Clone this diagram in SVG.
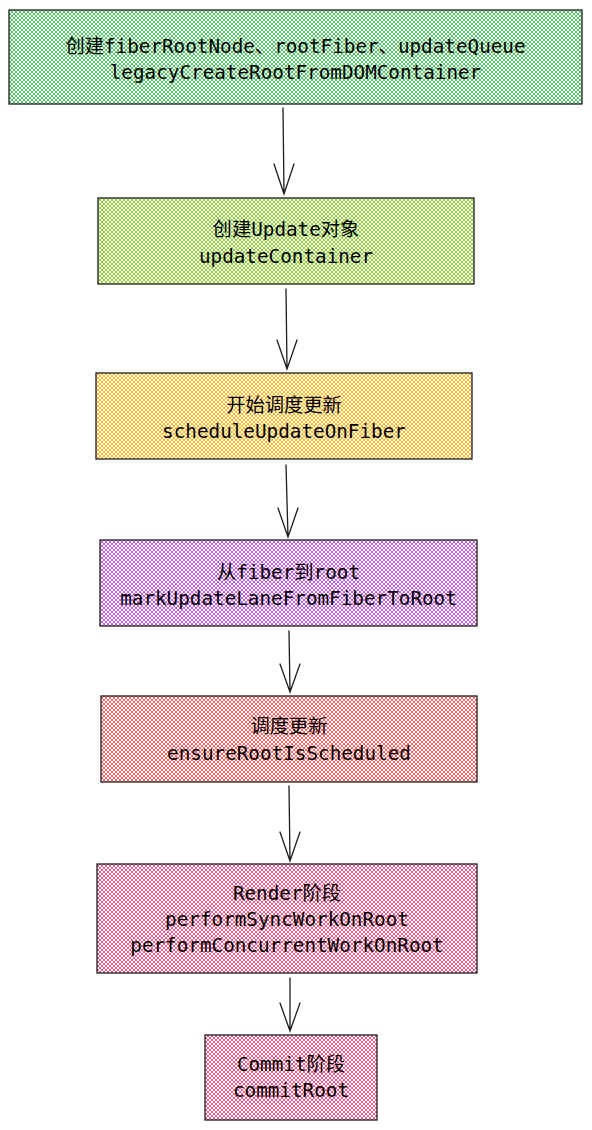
<svg xmlns="http://www.w3.org/2000/svg" width="592" height="1130" viewBox="0 0 592 1130">
<defs>
<pattern id="hg" width="4" height="4" patternUnits="userSpaceOnUse"><rect width="4" height="4" fill="#fff"/><path d="M-1,1 L1,-1 M0,4 L4,0 M3,5 L5,3 M-1,3 L1,5 M0,0 L4,4 M3,-1 L5,1" stroke="#40c057" stroke-width="0.9" fill="none"/></pattern>
<pattern id="hl" width="4" height="4" patternUnits="userSpaceOnUse"><rect width="4" height="4" fill="#fff"/><path d="M-1,1 L1,-1 M0,4 L4,0 M3,5 L5,3 M-1,3 L1,5 M0,0 L4,4 M3,-1 L5,1" stroke="#82c91e" stroke-width="0.9" fill="none"/></pattern>
<pattern id="hy" width="4" height="4" patternUnits="userSpaceOnUse"><rect width="4" height="4" fill="#fff"/><path d="M-1,1 L1,-1 M0,4 L4,0 M3,5 L5,3 M-1,3 L1,5 M0,0 L4,4 M3,-1 L5,1" stroke="#fab005" stroke-width="0.9" fill="none"/></pattern>
<pattern id="hp" width="4" height="4" patternUnits="userSpaceOnUse"><rect width="4" height="4" fill="#fff"/><path d="M-1,1 L1,-1 M0,4 L4,0 M3,5 L5,3 M-1,3 L1,5 M0,0 L4,4 M3,-1 L5,1" stroke="#be4bdb" stroke-width="0.9" fill="none"/></pattern>
<pattern id="hr" width="4" height="4" patternUnits="userSpaceOnUse"><rect width="4" height="4" fill="#fff"/><path d="M-1,1 L1,-1 M0,4 L4,0 M3,5 L5,3 M-1,3 L1,5 M0,0 L4,4 M3,-1 L5,1" stroke="#fa5252" stroke-width="0.9" fill="none"/></pattern>
<pattern id="hk" width="4" height="4" patternUnits="userSpaceOnUse"><rect width="4" height="4" fill="#fff"/><path d="M-1,1 L1,-1 M0,4 L4,0 M3,5 L5,3 M-1,3 L1,5 M0,0 L4,4 M3,-1 L5,1" stroke="#e64980" stroke-width="0.9" fill="none"/></pattern>
</defs>
<style>
.box{stroke:#1e1e1e;stroke-width:1.3}
.t{font-family:"DejaVu Sans Mono","Noto Sans CJK SC",monospace;font-size:19.3px;fill:#000;text-anchor:middle}
.c{stroke:#1e1e1e;stroke-width:1.3;fill:none;stroke-linecap:round}
</style>
<rect width="592" height="1130" fill="#fff"/>
<g id="n1"><rect class="box" x="9" y="10" width="573" height="94" fill="url(#hg)"/><text class="t" x="295.5" y="53">创建fiberRootNode、rootFiber、updateQueue</text><text class="t" x="295.5" y="79">legacyCreateRootFromDOMContainer</text></g>
<g id="n2"><rect class="box" x="98" y="198" width="376" height="86" fill="url(#hl)"/><text class="t" x="286" y="236">创建Update对象</text><text class="t" x="286" y="263">updateContainer</text></g>
<g id="n3"><rect class="box" x="96" y="373" width="376" height="86" fill="url(#hy)"/><text class="t" x="284" y="412">开始调度更新</text><text class="t" x="284" y="438">scheduleUpdateOnFiber</text></g>
<g id="n4"><rect class="box" x="100" y="540" width="377" height="86" fill="url(#hp)"/><text class="t" x="288.5" y="579">从fiber到root</text><text class="t" x="288.5" y="605">markUpdateLaneFromFiberToRoot</text></g>
<g id="n5"><rect class="box" x="101" y="696" width="376" height="86" fill="url(#hr)"/><text class="t" x="289" y="733">调度更新</text><text class="t" x="289" y="760">ensureRootIsScheduled</text></g>
<g id="n6"><rect class="box" x="97" y="864" width="380" height="109" fill="url(#hk)"/><text class="t" x="287" y="900">Render阶段</text><text class="t" x="287" y="926">performSyncWorkOnRoot</text><text class="t" x="287" y="952">performConcurrentWorkOnRoot</text></g>
<g id="n7"><rect class="box" x="205" y="1035" width="172" height="85" fill="url(#hk)"/><text class="t" x="291" y="1071">Commit阶段</text><text class="t" x="291" y="1097">commitRoot</text></g>
<g id="connectors">
<path class="c" d="M283,108 L284,194 M274,164 L284,194 L294,164"/>
<path class="c" d="M286,289 L287,369 M277,340 L287,369 L297,340"/>
<path class="c" d="M286,465 L288,537 M278,508 L288,537 L298,508"/>
<path class="c" d="M289,631 L290,692 M280,664 L290,692 L300,664"/>
<path class="c" d="M289,786 L290,861 M280,832 L290,861 L300,832"/>
<path class="c" d="M290,978 L290,1031 M280,1003 L290,1031 L300,1003"/>
</g>
</svg>
